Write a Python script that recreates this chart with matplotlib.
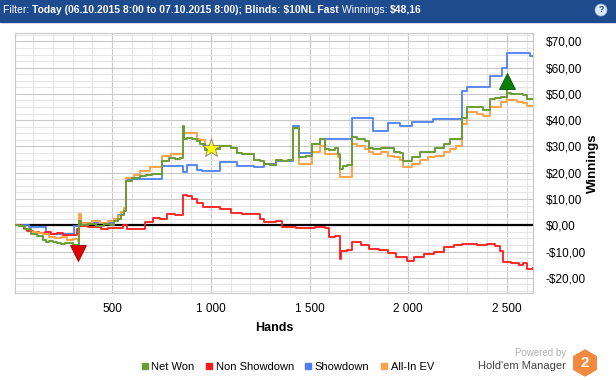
import matplotlib
matplotlib.use('Agg')
import matplotlib.pyplot as plt
import matplotlib.ticker as mticker
import matplotlib.transforms as mtransforms
from matplotlib.patches import Rectangle, RegularPolygon, Circle
from matplotlib.lines import Line2D

plt.rcParams['font.family'] = ['Liberation Sans', 'DejaVu Sans']

W, H = 616, 380

# --- data (hands, $) ---
won_hands = [1, 30, 60, 90, 120, 150, 165, 180, 200, 220, 240, 260, 280, 300, 315, 328,
             332, 340, 380, 420, 460, 490, 510, 530, 545, 560, 572, 600, 640, 670, 700,
             730, 755, 790, 820, 845, 858, 862, 880, 905, 930, 945, 970, 985, 1000, 1020,
             1047, 1072, 1100, 1133, 1160, 1190, 1219, 1250, 1270, 1300, 1330, 1360, 1390,
             1414, 1445, 1480, 1513, 1553, 1578, 1600, 1630, 1645, 1654, 1656, 1670, 1690,
             1714, 1740, 1780, 1800, 1822, 1860, 1897, 1930, 1958, 1975, 1995, 2019, 2060,
             2100, 2135, 2180, 2210, 2240, 2270, 2300, 2350, 2380, 2416, 2440, 2470, 2498,
             2502, 2520, 2550, 2580, 2600, 2630]
won = [0, -0.3, -1.5, -3.4, -4.0, -5.5, -6.5, -6.0, -6.5, -6.6, -7.2, -6.8, -6.9, -7.5, -7.4, -8.0,
       1.5, 0.2, 0.4, -0.3, 0.4, 0.0, 1.5, 2.5, 4.0, 5.3, 16.7, 17.8, 18.8, 19.0, 19.6,
       19.4, 24.5, 25.5, 25.2, 25.5, 37.6, 32.7, 33.3, 33.0, 32.0, 30.8, 28.5, 28.8, 29.3, 29.0,
       30.0, 30.2, 29.3, 27.5, 27.0, 27.2, 25.0, 24.5, 23.2, 23.0, 25.0, 24.5, 25.0,
       37.0, 25.9, 26.2, 30.8, 32.7, 29.0, 28.5, 29.3, 27.0, 25.0, 21.3, 22.4, 22.8,
       33.5, 32.7, 32.0, 29.3, 29.0, 29.6, 29.6, 28.0, 27.5, 24.3, 24.5, 25.9, 28.0,
       28.0, 29.6, 31.0, 32.7, 32.7, 41.0, 45.0, 45.0, 44.0, 48.0, 48.5, 48.7, 52.5,
       50.5, 50.0, 49.8, 49.5, 48.0, 48.16]

sd_hands = [1, 80, 165, 307, 332, 340, 510, 530, 545, 560, 572, 753, 858, 880, 930, 956,
            1047, 1133, 1219, 1270, 1330, 1414, 1445, 1513, 1553, 1714, 1822, 1897, 1958,
            2019, 2125, 2270, 2300, 2414, 2475, 2500, 2616, 2630]
showdown = [0, -0.8, -3.5, -0.4, 0.5, 1.0, 2.5, 3.8, 5.0, 6.3, 17.5, 22.4, 20.2, 22.8, 20.9, 20.5,
            24.0, 22.4, 22.2, 23.2, 24.3, 37.6, 27.4, 30.8, 33.0, 40.7, 36.0, 39.0, 37.6,
            39.5, 40.3, 51.0, 52.8, 56.7, 60.0, 65.4, 64.6, 64.6]

nsd_hands = [1, 40, 55, 70, 100, 130, 160, 190, 220, 250, 280, 300, 320, 332, 380, 444, 480,
             510, 556, 575, 600, 640, 667, 707, 740, 780, 820, 858, 880, 905, 930, 960, 1000,
             1047, 1100, 1133, 1160, 1190, 1219, 1250, 1270, 1300, 1330, 1360, 1390, 1430,
             1480, 1530, 1578, 1600, 1630, 1654, 1657, 1690, 1716, 1760, 1800, 1850, 1897,
             1940, 1995, 2030, 2080, 2130, 2180, 2230, 2270, 2300, 2350, 2400, 2440, 2465,
             2480, 2520, 2560, 2580, 2600, 2630]
non_showdown = [0, -0.4, -1.5, -2.3, -2.6, -3.0, -2.7, -3.4, -2.8, -3.8, -3.6, -3.9, -1.5, -0.4, -0.6, -1.5, -1.1,
                -1.2, 0.0, -1.5, -1.3, -1.6, 1.1, 2.6, 2.4, 4.2, 3.8, 11.4, 11.0, 9.9, 8.5, 7.0, 6.8,
                6.1, 4.8, 4.5, 4.2, 4.4, 4.2, 2.3, 1.1, 1.3, 1.5, -0.8, -0.8, -1.0,
                -1.1, -0.8, -1.0, -4.6, -4.2, -12.9, -9.9, -9.6, -6.5, -7.5, -9.1, -9.3, -10.5,
                -12.0, -13.7, -12.0, -11.0, -10.0, -8.4, -7.6, -7.2, -7.0, -7.5, -7.2, -8.0, -9.9,
                -14.0, -14.5, -15.0, -14.5, -16.7, -16.4]

ev_hands = [1, 30, 60, 90, 120, 150, 180, 210, 240, 270, 300, 328, 332, 340, 400, 440, 480,
            510, 530, 545, 560, 572, 610, 640, 690, 755, 800, 858, 862, 930, 945, 970, 1000,
            1020, 1047, 1072, 1100, 1133, 1160, 1190, 1219, 1250, 1270, 1300, 1330, 1360,
            1390, 1414, 1445, 1513, 1553, 1578, 1630, 1645, 1654, 1656, 1714, 1740, 1780,
            1800, 1822, 1860, 1897, 1930, 1958, 1975, 2019, 2060, 2100, 2135, 2180, 2210,
            2240, 2270, 2300, 2350, 2380, 2416, 2470, 2498, 2502, 2550, 2580, 2600, 2630]
allin_ev = [0, -0.3, -1.5, -2.5, -3.0, -3.5, -4.5, -5.0, -4.6, -5.5, -5.2, -6.0, 4.2, 1.0, 1.5, 0.8, 1.5,
            2.5, 3.5, 5.0, 6.5, 18.0, 19.0, 20.5, 22.0, 26.5, 27.0, 37.6, 35.0, 33.0, 32.5, 29.3, 29.3,
            29.0, 30.0, 30.2, 29.3, 27.5, 27.0, 27.2, 25.0, 24.5, 23.2, 23.0, 25.0, 24.5,
            25.0, 37.0, 23.2, 28.0, 30.0, 27.0, 27.0, 26.0, 24.0, 18.2, 30.8, 30.0, 29.0,
            27.7, 27.0, 27.7, 26.5, 25.9, 25.0, 22.0, 23.2, 25.0, 26.0, 26.4, 28.0, 29.0,
            30.0, 38.4, 43.0, 42.5, 41.5, 45.0, 46.8, 49.0, 47.5, 47.0, 46.5, 45.5, 45.3]

star_hand = 1000
legend_labels = ['Net Won', 'Non Showdown', 'Showdown', 'All-In EV']
colors = {'Net Won': '#6a9c36', 'Non Showdown': '#ff1a1a',
          'Showdown': '#4f7ff5', 'All-In EV': '#ffa24a'}


def px(x, y):
    return x / W, 1 - y / H


fig = plt.figure(figsize=(W / 100, H / 100), dpi=100)
ax = fig.add_axes([15 / W, 1 - 293 / H, (533 - 15) / W, (293 - 33) / H])

# series
ax.plot(sd_hands, showdown, drawstyle='steps-post', color=colors['Showdown'], lw=1.3, zorder=3)
ax.plot(nsd_hands, non_showdown, drawstyle='steps-post', color=colors['Non Showdown'], lw=1.3, zorder=4)
ax.plot(ev_hands, allin_ev, drawstyle='steps-post', color=colors['All-In EV'], lw=1.4, zorder=5)
ax.plot(won_hands, won, drawstyle='steps-post', color=colors['Net Won'], lw=1.4, zorder=6)
ax.axhline(0, color='black', lw=1.6, zorder=2.5)

# min / max / star markers
i_min = won.index(min(won))
i_max = won.index(max(won))
below = mtransforms.offset_copy(ax.transData, fig=fig, x=0, y=-7, units='dots')
above = mtransforms.offset_copy(ax.transData, fig=fig, x=0, y=6, units='dots')
ax.plot(won_hands[i_min], won[i_min], marker='v', ms=11, mfc='#e00000', mec='#a00000',
        mew=0.6, transform=below, zorder=8, clip_on=False)
ax.plot(won_hands[i_max], won[i_max], marker='^', ms=11, mfc='#0b7d0b', mec='#005500',
        mew=0.6, transform=above, zorder=8, clip_on=False)
ax.plot(star_hand, won[won_hands.index(star_hand)], marker='*', ms=14, mfc='#ffff00',
        mec='#7a7a7a', mew=0.6, zorder=8)

# axes
ax.set_xlim(8, 2632)
ax.set_ylim(-25.8, 73.2)
ax.xaxis.set_major_locator(mticker.MultipleLocator(500))
ax.xaxis.set_minor_locator(mticker.MultipleLocator(100))
ax.yaxis.set_major_locator(mticker.MultipleLocator(10))
ax.yaxis.set_minor_locator(mticker.MultipleLocator(2.5))
ax.xaxis.set_major_formatter(mticker.FuncFormatter(lambda v, p: f"{int(v):,}".replace(',', ' ')))


def money(v, p):
    s = f"${abs(v):.2f}".replace('.', ',')
    return '-' + s if v < -1e-9 else s


ax.yaxis.set_major_formatter(mticker.FuncFormatter(money))
ax.yaxis.tick_right()
ax.tick_params(which='both', length=0)
ax.tick_params(axis='y', pad=9, labelsize=8.5)
ax.tick_params(axis='x', pad=7, labelsize=8.5)
ax.grid(which='major', color='#c8c8c8', lw=0.8)
ax.grid(which='minor', color='#e6e6e6', lw=0.8)
ax.set_axisbelow(True)
for sp in ax.spines.values():
    sp.set_color('#c8c8c8')
ax.set_xlabel('Hands', fontsize=9, fontweight='bold', labelpad=5)
fig.text(*px(593, 163), 'Winnings', rotation=90, fontsize=9.5, fontweight='bold',
         ha='center', va='center')

# header band
fig.patches.append(Rectangle(px(0, 22), 1, 22 / H, transform=fig.transFigure,
                             color='#1e4a8e', zorder=0))
fig.canvas.draw()
renderer = fig.canvas.get_renderer()
x = 3 / W
for s, bold in [('Filter: ', False),
                ('Today (06.10.2015 8:00 to 07.10.2015 8:00); Blinds: $10NL Fast', True),
                (' Winnings: ', False), ('$48,16', True)]:
    t = fig.text(x, 1 - 10 / H, s, color='white', fontsize=7.5,
                 fontweight='bold' if bold else 'normal', va='center', ha='left')
    x += t.get_window_extent(renderer).width / fig.bbox.width
fig.patches.append(Circle((601 / 100, (H - 10) / 100), 0.06, transform=fig.dpi_scale_trans,
                          facecolor='#dce8f7', edgecolor='#9fb8dc', lw=0.5))
fig.text(*px(601, 10), '?', color='#1e4a8e', fontsize=6.5, fontweight='bold',
         ha='center', va='center')

# legend
handles = [Line2D([], [], ls='none', marker='s', ms=5, color=colors[k]) for k in legend_labels]
fig.legend(handles, legend_labels, loc='center', bbox_to_anchor=px(287, 367), ncol=4,
           frameon=False, fontsize=8, handletextpad=0.2, columnspacing=0.9, handlelength=0.8)

# logo
fig.text(*px(566, 353), 'Powered by', color='#b0b0b0', fontsize=7, ha='right', va='center')
fig.text(*px(566, 366), "Hold'em Manager", color='#444444', fontsize=8, ha='right', va='center')
fig.patches.append(RegularPolygon((585 / 100, (H - 363) / 100), 6, radius=0.13,
                                  transform=fig.dpi_scale_trans, color='#f3893d'))
fig.text(*px(585, 363), '2', color='white', fontsize=11, fontweight='bold',
         ha='center', va='center')

fig.savefig('out.png', dpi=100)
